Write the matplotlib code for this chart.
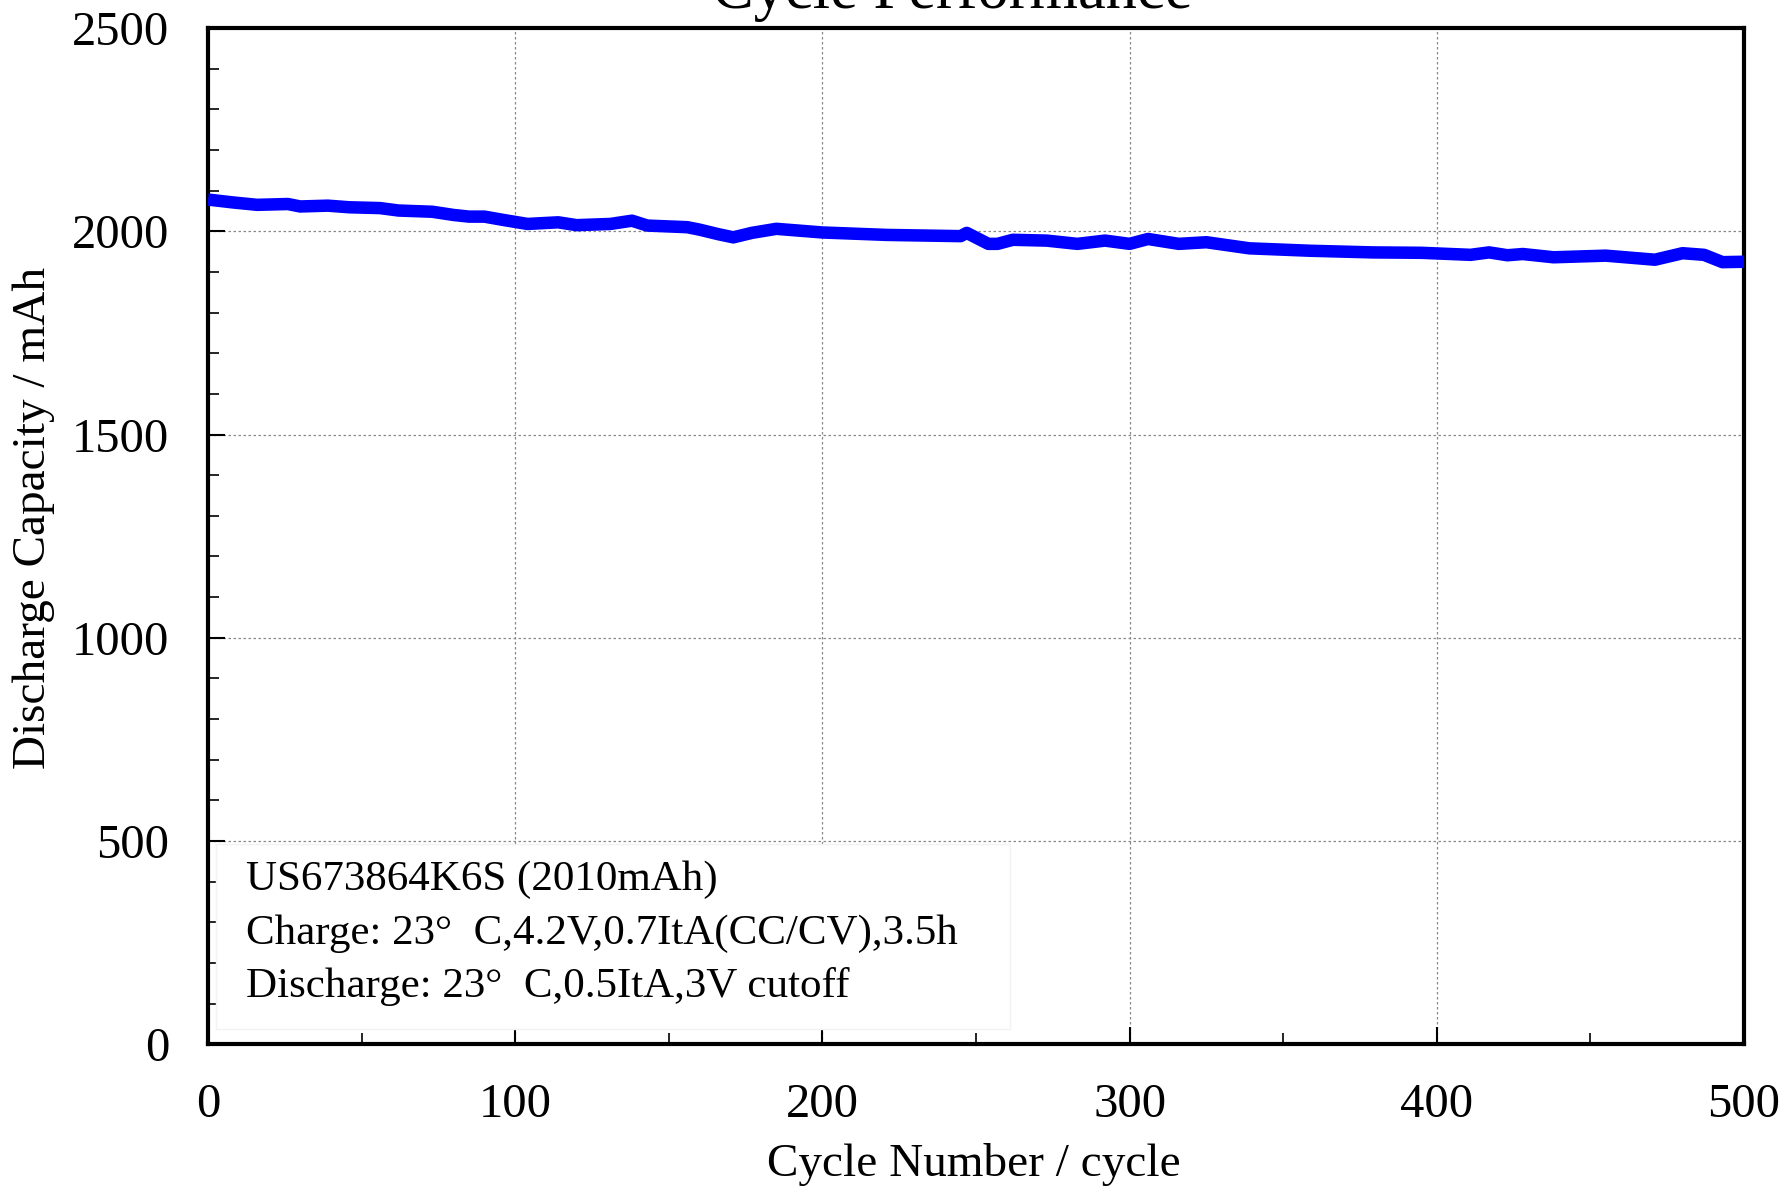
import matplotlib
matplotlib.use("Agg")
import matplotlib.pyplot as plt
from matplotlib.patches import Rectangle
from matplotlib.ticker import MultipleLocator

cycles = [0, 8, 16, 26, 30, 39, 46, 56, 62, 73, 80, 85, 90, 96, 104, 114, 120,
          131, 138, 143, 156, 160, 166, 171, 177, 185, 200, 221, 245, 247, 254,
          257, 262, 273, 283, 292, 300, 306, 316, 325, 339, 359, 379, 395, 411,
          417, 423, 428, 438, 455, 471, 480, 487, 493, 500]
capacity = [2078, 2071, 2065, 2067, 2061, 2063, 2059, 2057, 2051, 2048, 2040,
            2036, 2036, 2028, 2018, 2022, 2015, 2018, 2026, 2014, 2010, 2004,
            1993, 1985, 1996, 2006, 1997, 1991, 1988, 1996, 1969, 1969, 1979,
            1977, 1969, 1977, 1969, 1981, 1969, 1973, 1958, 1952, 1948, 1947,
            1942, 1948, 1941, 1944, 1936, 1940, 1930, 1946, 1942, 1924, 1925]

x_ticks = [0, 100, 200, 300, 400, 500]
y_ticks = [0, 500, 1000, 1500, 2000, 2500]
title = "Cycle Performance"
x_label = "Cycle Number / cycle"
y_label = "Discharge Capacity / mAh"
notes = ["US673864K6S (2010mAh)",
         "Charge: 23\u00b0  C,4.2V,0.7ItA(CC/CV),3.5h",
         "Discharge: 23\u00b0  C,0.5ItA,3V cutoff"]

plt.rcParams['font.family'] = ['Liberation Serif', 'DejaVu Serif']

W, H = 1783, 1190
fig = plt.figure(figsize=(W / 100, H / 100), dpi=100)
ax = fig.add_axes([208 / W, 1 - 1044.3 / H, (1744 - 208) / W, (1044.3 - 28) / H])

ax.plot(cycles, capacity, color='#0000FF', lw=9, solid_capstyle='butt',
        solid_joinstyle='round', zorder=3)

ax.set_xlim(0, 500)
ax.set_ylim(0, 2500)
ax.set_xticks(x_ticks)
ax.set_yticks(y_ticks)
ax.xaxis.set_minor_locator(MultipleLocator(50))
ax.yaxis.set_minor_locator(MultipleLocator(100))
ax.tick_params(which='major', direction='in', length=12, width=1.5,
               labelsize=35, pad=28)
ax.tick_params(which='minor', direction='in', length=8, width=1.2)
ax.grid(True, which='major', color='#888888', linestyle=(0, (2, 2)), lw=0.9)
for s in ax.spines.values():
    s.set_linewidth(3)

fig.text(974 / W, 1 - 1165 / H, x_label, fontsize=34, ha='center', va='center')
fig.text(34 / W, 1 - 518 / H, y_label, fontsize=34, ha='center', va='center',
         rotation=90)
fig.text(952 / W, 1 - 8 / H, title, fontsize=45, ha='center', va='baseline')

ax.add_patch(Rectangle((0.005, 0.015), 0.517, 0.182, transform=ax.transAxes,
                       facecolor='white', edgecolor='#f2f2f2', lw=1, zorder=2))
for ypos, t in zip([0.1516, 0.099, 0.0464], notes):
    ax.text(0.0245, ypos, t, transform=ax.transAxes, fontsize=31,
            va='baseline', ha='left', zorder=4)

fig.savefig("out.png", dpi=100)
